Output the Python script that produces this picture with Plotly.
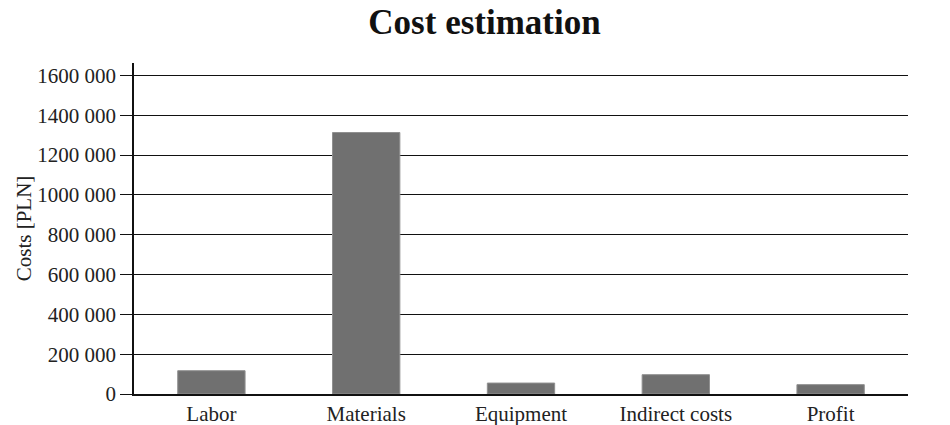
import plotly.graph_objects as go

categories = ["Labor", "Materials", "Equipment", "Indirect costs", "Profit"]
costs = [117000, 1313000, 55000, 97000, 47000]
tick_values = [0, 200000, 400000, 600000, 800000, 1000000, 1200000, 1400000, 1600000]
tick_labels = ["0", "200 000", "400 000", "600 000", "800 000", "1000 000",
               "1200 000", "1400 000", "1600 000"]

serif = "Liberation Serif, Times New Roman, serif"

fig = go.Figure(
    go.Bar(
        x=categories,
        y=costs,
        marker=dict(color="#707070", line=dict(color="#909090", width=1)),
        width=0.435,
    )
)

fig.update_layout(
    width=950,
    height=425,
    margin=dict(l=134, r=42, t=63, b=31),
    paper_bgcolor="white",
    plot_bgcolor="white",
    showlegend=False,
    font=dict(family=serif, size=21, color="#222222"),
    title=dict(
        text="<b>Cost estimation</b>",
        x=0.51,
        xref="container",
        xanchor="center",
        y=0.948,
        yref="container",
        yanchor="middle",
        font=dict(family=serif, size=35, color="#111111"),
    ),
)

fig.update_xaxes(
    automargin=False,
    showline=True,
    linecolor="#111111",
    linewidth=1.5,
    showgrid=False,
    ticks="",
    tickfont=dict(family=serif, size=21, color="#222222"),
)

fig.update_yaxes(
    automargin=False,
    range=[0, 1662000],
    tickvals=tick_values,
    ticktext=tick_labels,
    showline=True,
    linecolor="#111111",
    linewidth=1.5,
    showgrid=True,
    gridcolor="#111111",
    gridwidth=1,
    ticks="outside",
    ticklen=12,
    tickcolor="#111111",
    tickfont=dict(family=serif, size=21, color="#222222"),
    zeroline=False,
    title=dict(text="Costs [PLN]", font=dict(family=serif, size=21, color="#222222"), standoff=0),
)

fig.write_html("out.html")
